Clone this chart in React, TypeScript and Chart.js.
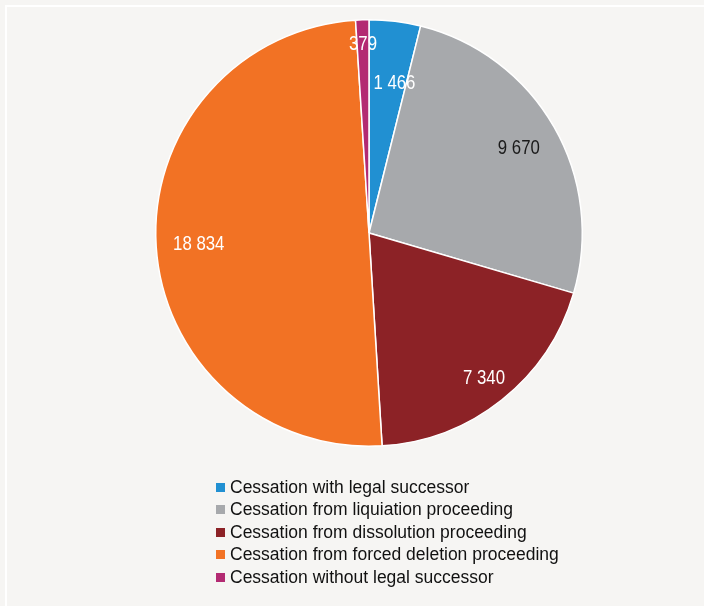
import React, { useEffect, useRef } from "react";
import { Chart, registerables } from "chart.js";

Chart.register(...registerables);

const categories = [
  "Cessation with legal successor",
  "Cessation from liquiation proceeding",
  "Cessation from dissolution proceeding",
  "Cessation from forced deletion proceeding",
  "Cessation without legal successor",
];
const values = [1466, 9670, 7340, 18834, 379];
const valueLabels = ["1 466", "9 670", "7 340", "18 834", "379"];

const sliceColors = ["#2190d2", "#a7a9ac", "#8c2226", "#f27224", "#b32a72"];
const labelColors = ["#ffffff", "#1a1a1a", "#ffffff", "#ffffff", "#ffffff"];
const labelRadius = [0.715, 0.81, 0.865, 0.8, 0.89];
const labelAngleShiftDeg = [2.6, 0, 0, 0, 0];

const labelPlugin = {
  id: "sliceLabels",
  afterDatasetsDraw(chart: any) {
    const ctx = chart.ctx;
    const meta = chart.getDatasetMeta(0);
    ctx.save();
    ctx.font = '21px "Liberation Sans", Arial, sans-serif';
    ctx.textAlign = "center";
    ctx.textBaseline = "middle";
    meta.data.forEach((arc: any, i: number) => {
      const { x, y, startAngle, endAngle, outerRadius } = arc.getProps(
        ["x", "y", "startAngle", "endAngle", "outerRadius"],
        true
      );
      const mid = (startAngle + endAngle) / 2 + (labelAngleShiftDeg[i] * Math.PI) / 180;
      const r = outerRadius * labelRadius[i];
      const lx = x + Math.cos(mid) * r;
      const ly = y + Math.sin(mid) * r + 1;
      ctx.save();
      ctx.translate(lx, ly);
      ctx.scale(0.8, 1);
      ctx.fillStyle = labelColors[i];
      ctx.fillText(valueLabels[i], 0, 0);
      ctx.restore();
    });
    ctx.restore();
  },
};

export default function App() {
  const canvasRef = useRef<HTMLCanvasElement | null>(null);

  useEffect(() => {
    if (!canvasRef.current) return;
    const chart = new Chart(canvasRef.current, {
      type: "pie",
      data: {
        labels: categories,
        datasets: [
          {
            data: values,
            backgroundColor: sliceColors,
            borderColor: "#ffffff",
            borderWidth: 1.5,
          },
        ],
      },
      options: {
        animation: false,
        responsive: false,
        maintainAspectRatio: false,
        layout: { padding: { top: 19, bottom: 159, left: 155, right: 121 } },
        plugins: {
          legend: { display: false },
          tooltip: { enabled: false },
        },
      },
      plugins: [labelPlugin],
    });
    return () => chart.destroy();
  }, []);

  return (
    <div
      style={{
        position: "fixed",
        left: 0,
        top: 0,
        width: 704,
        height: 606,
        background: "#f6f5f3",
        overflow: "hidden",
      }}
    >
      <div
        style={{
          position: "absolute",
          left: 5,
          top: 5,
          right: 0,
          bottom: 0,
          borderLeft: "2px solid #ffffff",
          borderTop: "2px solid #ffffff",
        }}
      />
      <canvas
        ref={canvasRef}
        width={704}
        height={606}
        style={{ position: "absolute", left: 0, top: 0, width: 704, height: 606 }}
      />
      <div
        style={{
          position: "absolute",
          left: 216,
          top: 476,
          fontFamily: '"Liberation Sans", Arial, sans-serif',
          fontSize: 17.5,
          color: "#111111",
        }}
      >
        {categories.map((c, i) => (
          <div
            key={c}
            style={{ display: "flex", alignItems: "center", height: 22.5, whiteSpace: "nowrap" }}
          >
            <span
              style={{
                display: "inline-block",
                width: 9,
                height: 9,
                background: sliceColors[i],
                marginRight: 5,
                flexShrink: 0,
              }}
            />
            <span>{c}</span>
          </div>
        ))}
      </div>
    </div>
  );
}
